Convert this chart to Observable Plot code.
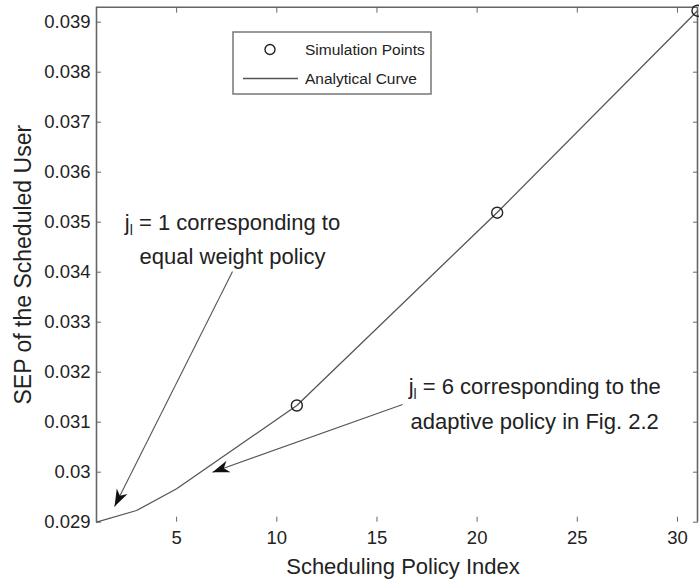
<!DOCTYPE html>
<html><head><meta charset="utf-8">
<script src="https://cdn.jsdelivr.net/npm/d3@7"></script>
<script src="https://cdn.jsdelivr.net/npm/@observablehq/plot@0.6"></script>
<style>html,body{margin:0;padding:0;background:#fff;}</style>
</head><body><div id="chart"></div>
<script>
// ---- data ----
const xTicks = [5, 10, 15, 20, 25, 30];
const yTicks = [0.029, 0.030, 0.031, 0.032, 0.033, 0.034, 0.035, 0.036, 0.037, 0.038, 0.039];
const curveIndex = [1, 3, 5, 11, 21, 31];
const curveSEP = [0.02900, 0.029234, 0.029668, 0.031334, 0.035194, 0.03923];
const simIndex = [11, 21, 31];
const simSEP = [0.031334, 0.035190, 0.03923];
const legendLabels = ["Simulation Points", "Analytical Curve"];
const xLabel = "Scheduling Policy Index";
const yLabel = "SEP of the Scheduled User";
const noteText = ["j_l = 1 corresponding to\nequal weight policy", "j_l = 6 corresponding to the\nadaptive policy in Fig. 2.2"];
const noteAt = [[7.79, 0.034164], [22.87, 0.030874]];
const arrowFrom = [[7.79, 0.034014], [16.28, 0.031354]];
const arrowTo = [[1.9, 0.029314], [6.79, 0.0300]];
const xDomain = [1, 31];
const yDomain = [0.029, 0.0393];

// ---- tables ----
const curve = curveIndex.map((x, i) => ({x, y: curveSEP[i]}));
const sim = simIndex.map((x, i) => ({x, y: simSEP[i]}));
const notes = noteText.map((t, i) => ({text: t, x: noteAt[i][0], y: noteAt[i][1],
  x1: arrowFrom[i][0], y1: arrowFrom[i][1], x2: arrowTo[i][0], y2: arrowTo[i][1]}));

const W = 699, H = 585, ML = 96, MR = 2, MT = 6.7, MB = 63.3;
const FONT = "'Liberation Sans', Arial, Helvetica, sans-serif";
const xS = Plot.scale({x: {domain: xDomain, range: [ML, W - MR]}});
const yS = Plot.scale({y: {domain: yDomain, range: [H - MB, MT]}});
const angle = d => {
  const dx = xS.apply(d.x2) - xS.apply(d.x1);
  const dy = yS.apply(d.y2) - yS.apply(d.y1);
  return Math.atan2(dx, -dy) * 180 / Math.PI;
};
const arrowHead = {
  draw(ctx) {
    const L = 17, w = 6, n = 5;
    ctx.moveTo(0, 0); ctx.lineTo(w, L); ctx.lineTo(0, L - n); ctx.lineTo(-w, L); ctx.closePath();
  }
};
const fmt = d => String(+d.toFixed(3));

const chart = Plot.plot({
  width: W, height: H,
  marginLeft: ML, marginRight: MR, marginTop: MT, marginBottom: MB,
  x: {domain: xDomain},
  y: {domain: yDomain},
  style: {fontFamily: FONT, fontSize: "18.5px", color: "#222", background: "white"},
  marks: [
    Plot.ruleX([xDomain[0]], {stroke: "#666", strokeWidth: 1.6}),
    Plot.ruleX([xDomain[1]], {stroke: "#666", strokeWidth: 1.6}),
    Plot.ruleY([yDomain[1]], {stroke: "#666", strokeWidth: 1.6}),
    Plot.axisY(yTicks, {anchor: "left", tickSize: -5, tickPadding: 11, tickFormat: fmt, label: null, stroke: "#666", fill: "#222", fontSize: 18.5}),
    Plot.axisY(yTicks, {anchor: "right", tickSize: -5, tickFormat: () => "", label: null, stroke: "#666"}),
    Plot.axisX(xTicks, {anchor: "bottom", tickSize: -5, tickPadding: 13.3, label: null, stroke: "#666", fill: "#222", fontSize: 18.5}),
    Plot.axisX(xTicks, {anchor: "top", tickSize: -5, tickFormat: () => "", label: null, stroke: "#666"}),
    Plot.line(curve, {x: "x", y: "y", stroke: "#555", strokeWidth: 1.3}),
    Plot.dot(sim, {x: "x", y: "y", r: 5.5, stroke: "#222", strokeWidth: 1.4, fill: "none"}),
    Plot.link(notes, {x1: "x1", y1: "y1", x2: "x2", y2: "y2", stroke: "#555", strokeWidth: 1.1}),
    Plot.dot(notes, {x: "x2", y: "y2", symbol: arrowHead, rotate: angle, r: 5, fill: "#111", stroke: "none"}),
    Plot.text(notes, {x: "x", y: "y", text: "text", textAnchor: "middle", lineAnchor: "bottom", lineHeight: 1.55, fontSize: 22, fill: "#222"}),
    Plot.text([xLabel], {frameAnchor: "bottom", dy: 52, dx: 6, text: d => d, textAnchor: "middle", lineAnchor: "bottom", fontSize: 22, fill: "#222"}),
    Plot.text([yLabel], {frameAnchor: "left", dx: -73, rotate: -90, text: d => d, textAnchor: "middle", lineAnchor: "middle", fontSize: 23, fill: "#222"})
  ]
});

// subscripts for j_l
chart.querySelectorAll("text").forEach(t => {
  const nodes = t.children.length ? Array.from(t.children) : [t];
  nodes.forEach(n => {
    const s = n.textContent;
    if (s.startsWith("j_l")) {
      const rest = s.slice(3);
      n.textContent = "";
      const ns = "http://www.w3.org/2000/svg";
      const a = document.createElementNS(ns, "tspan"); a.textContent = "j";
      const b = document.createElementNS(ns, "tspan"); b.textContent = "l";
      b.setAttribute("dy", "5"); b.setAttribute("font-size", "14");
      const c = document.createElementNS(ns, "tspan"); c.textContent = rest; c.setAttribute("dy", "-5");
      n.append(a, b, c);
    }
  });
});

// legend
const g = d3.select(chart).append("g").attr("font-family", FONT).attr("fill", "#222").attr("text-anchor", "start");
g.append("rect").attr("x", 233).attr("y", 32).attr("width", 198).attr("height", 62)
  .attr("fill", "white").attr("stroke", "#777").attr("stroke-width", 1.5);
g.append("circle").attr("cx", 270).attr("cy", 49.5).attr("r", 5)
  .attr("fill", "none").attr("stroke", "#222").attr("stroke-width", 1.4);
g.append("line").attr("x1", 243).attr("x2", 298).attr("y1", 78.5).attr("y2", 78.5)
  .attr("stroke", "#555").attr("stroke-width", 1.3);
legendLabels.forEach((s, i) => {
  g.append("text").attr("x", 305).attr("y", 49.5 + i * 29).attr("dy", "0.35em")
    .attr("text-anchor", "start").attr("font-size", 15.5).text(s);
});

document.getElementById("chart").append(chart);
</script>
</body></html>
